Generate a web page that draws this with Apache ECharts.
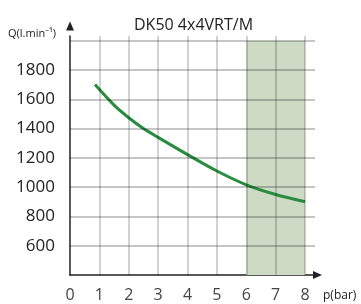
<!DOCTYPE html>
<html lang="en">
<head>
    <meta charset="UTF-8">
    <title>DK50 4x4VRT/M</title>
    <script src="https://cdn.jsdelivr.net/npm/echarts@6/dist/echarts.min.js"></script>
    <style>
        html, body { margin: 0; padding: 0; background: #fff; }
        #main { width: 361px; height: 304px; }
    </style>
</head>
<body>
<div id="main"></div>
<script>
    // data
    var pressure = [0.85, 1.5, 2, 2.5, 3, 4, 5, 6, 7, 8];
    var flow = [1700, 1560, 1474, 1400, 1340, 1222, 1110, 1016, 950, 900];
    var xTicks = [0, 1, 2, 3, 4, 5, 6, 7, 8];
    var yTicks = [600, 800, 1000, 1200, 1400, 1600, 1800];
    var gridY = [600, 800, 1000, 1200, 1400, 1600, 1800, 2000];
    var gridX = [1, 2, 3, 4, 5, 6, 7, 8];
    var shadeRange = [6, 8];

    var xMax = 8.34, yMin = 400, yMax = 2032, yTop = 2000;
    var font = '"Open Sans", "Noto Sans", sans-serif';

    var myChart = echarts.init(document.getElementById('main'));

    var hLines = gridY.map(function (v) {
        return [{coord: [0, v]}, {coord: [xMax, v]}];
    });
    var vLines = gridX.map(function (v) {
        return [{coord: [v, yMin]}, {coord: [v, yMax]}];
    });

    var option = {
        animation: false,
        title: {
            text: 'DK50 4x4VRT/M',
            left: 129,
            top: 12,
            textStyle: {fontFamily: font, fontSize: 16, fontWeight: 'normal', color: '#222'}
        },
        grid: {left: 70, right: 46, top: 36, bottom: 29},
        xAxis: {
            type: 'value',
            min: 0,
            max: xMax,
            interval: 1,
            splitLine: {show: false},
            axisTick: {show: false},
            axisLine: {
                lineStyle: {color: '#222', width: 1.5},
                symbol: ['none', 'triangle'],
                symbolSize: [8, 9],
                symbolOffset: [0, 2.5]
            },
            axisLabel: {
                margin: 12,
                fontFamily: font,
                fontSize: 16,
                color: '#444',
                formatter: function (v) { return xTicks.indexOf(v) >= 0 ? String(v) : ''; }
            }
        },
        yAxis: {
            type: 'value',
            min: yMin,
            max: yMax,
            interval: 200,
            splitLine: {show: false},
            axisTick: {show: false},
            axisLine: {
                lineStyle: {color: '#222', width: 1.5},
                symbol: ['none', 'triangle'],
                symbolSize: [8, 9],
                symbolOffset: [0, 10]
            },
            axisLabel: {
                margin: 15,
                fontFamily: font,
                fontSize: 17,
                color: '#222',
                formatter: function (v) { return yTicks.indexOf(v) >= 0 ? String(v) : ''; }
            }
        },
        graphic: [
            {
                type: 'text', left: 8, top: 28,
                style: {text: 'Q(l.min⁻¹)', fontFamily: font, fontSize: 11, fill: '#222'}
            },
            {
                type: 'text', left: 323, top: 290,
                style: {text: 'p(bar)', fontFamily: font, fontSize: 12, fill: '#222'}
            }
        ],
        series: [
            {
                type: 'line', data: [], z: 1, silent: true,
                markArea: {
                    silent: true,
                    itemStyle: {color: '#cddac4'},
                    data: [[{coord: [shadeRange[0], yMin]}, {coord: [shadeRange[1], yTop]}]]
                }
            },
            {
                type: 'line', data: [], z: 2, silent: true,
                markLine: {
                    silent: true, symbol: 'none', label: {show: false},
                    lineStyle: {color: 'rgba(0,0,0,0.3)', width: 1.5, type: 'solid'},
                    data: hLines
                }
            },
            {
                type: 'line', data: [], z: 2, silent: true,
                markLine: {
                    silent: true, symbol: 'none', label: {show: false},
                    lineStyle: {color: 'rgba(0,0,0,0.24)', width: 1.5, type: 'solid'},
                    data: vLines
                }
            },
            {
                type: 'line',
                z: 3,
                smooth: 0.3,
                showSymbol: false,
                lineStyle: {color: '#2a8c3f', width: 3},
                data: pressure.map(function (p, i) { return [p, flow[i]]; })
            }
        ]
    };

    myChart.setOption(option);
</script>
</body>
</html>
